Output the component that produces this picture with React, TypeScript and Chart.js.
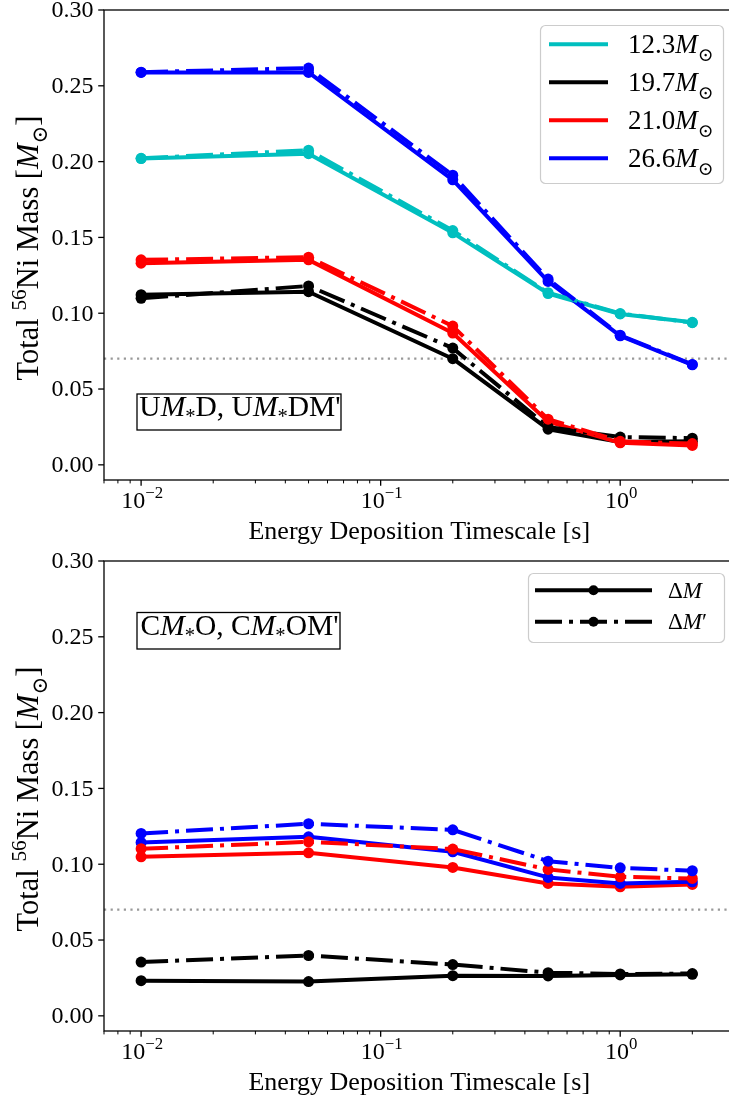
import React, { useEffect, useRef } from "react";
import { Chart, registerables } from "chart.js";
import type { Plugin } from "chart.js";

Chart.register(...registerables);

// ---- data ----
const TIMESCALES = [0.01, 0.05, 0.2, 0.5, 1, 2];

const MASSES = ["12.3", "19.7", "21.0", "26.6"];
const MASS_COLORS = ["#00bfbf", "#000000", "#ff0000", "#0000ff"];

// upper panel: UM*D (solid, ΔM) and UM*DM' (dash-dot, ΔM')
const UMD_12_3 = [0.202, 0.2052, 0.153, 0.113, 0.0995, 0.094];
const UMDP_12_3 = [0.2022, 0.2075, 0.1545, 0.1135, 0.0998, 0.0938];
const UMD_19_7 = [0.1122, 0.1142, 0.07, 0.0235, 0.015, 0.0155];
const UMDP_19_7 = [0.1098, 0.118, 0.077, 0.025, 0.0183, 0.0176];
const UMD_21_0 = [0.133, 0.1352, 0.0869, 0.0285, 0.0145, 0.0128];
const UMDP_21_0 = [0.1352, 0.137, 0.0915, 0.0301, 0.0155, 0.014];
const UMD_26_6 = [0.2588, 0.2588, 0.188, 0.121, 0.0851, 0.066];
const UMDP_26_6 = [0.259, 0.2617, 0.191, 0.1225, 0.0855, 0.0662];

// lower panel: CM*O (solid, ΔM) and CM*OM' (dash-dot, ΔM')
const CMO_19_7 = [0.0232, 0.0226, 0.0265, 0.0263, 0.027, 0.0274];
const CMOP_19_7 = [0.0355, 0.0398, 0.0338, 0.0285, 0.0276, 0.0279];
const CMO_21_0 = [0.1049, 0.1075, 0.0979, 0.0873, 0.0851, 0.0867];
const CMOP_21_0 = [0.1102, 0.1148, 0.11, 0.0966, 0.0917, 0.0906];
const CMO_26_6 = [0.1144, 0.1181, 0.1082, 0.0913, 0.0873, 0.0884];
const CMOP_26_6 = [0.1203, 0.1267, 0.1227, 0.102, 0.0976, 0.0957];

const THRESHOLD = 0.07;

const Y_TICKS = [0, 0.05, 0.1, 0.15, 0.2, 0.25, 0.3];
const X_MAJOR = [0.01, 0.1, 1];
const X_MAJOR_EXP = ["\u22122", "\u22121", "0"];
const X_MINOR = [
  0.007, 0.008, 0.009, 0.02, 0.03, 0.04, 0.05, 0.06, 0.07, 0.08, 0.09,
  0.2, 0.3, 0.4, 0.5, 0.6, 0.7, 0.8, 0.9, 2, 3,
];
const X_RANGE = [0.007, 3];
const Y_RANGE = [-0.01, 0.3];

const DELTA_LABELS = ["\u0394M", "\u0394M\u2032"];

// ---- text helpers ----
const SERIF = '"Liberation Serif", "DejaVu Serif", serif';

type Seg = { t: string; it?: boolean; scale?: number; dy?: number };

function segFont(s: Seg, size: number) {
  return `${s.it ? "italic " : ""}${size * (s.scale ?? 1)}px ${SERIF}`;
}

function richWidth(ctx: CanvasRenderingContext2D, segs: Seg[], size: number) {
  let w = 0;
  for (const s of segs) {
    ctx.font = segFont(s, size);
    w += ctx.measureText(s.t).width;
  }
  return w;
}

function drawRich(
  ctx: CanvasRenderingContext2D,
  segs: Seg[],
  x: number,
  y: number,
  size: number,
  align: "left" | "center" | "right"
) {
  const w = richWidth(ctx, segs, size);
  let cx = align === "left" ? x : align === "center" ? x - w / 2 : x - w;
  ctx.textAlign = "left";
  ctx.textBaseline = "alphabetic";
  for (const s of segs) {
    ctx.font = segFont(s, size);
    ctx.fillText(s.t, cx, y + (s.dy ?? 0) * size);
    cx += ctx.measureText(s.t).width;
  }
}

const SUB_STAR: Seg = { t: "*", scale: 0.7, dy: 0.23 };
const SUN: Seg = { t: "\u2299", scale: 0.7, dy: 0.3 };

function massLabel(m: string): Seg[] {
  return [{ t: m }, { t: "M", it: true }, SUN];
}

function deltaLabel(s: string): Seg[] {
  return [{ t: s[0] }, { t: "M", it: true }, ...(s.length > 2 ? [{ t: s.slice(2) }] : [])];
}

function roundRect(ctx: CanvasRenderingContext2D, x: number, y: number, w: number, h: number, r: number) {
  ctx.beginPath();
  ctx.moveTo(x + r, y);
  ctx.lineTo(x + w - r, y);
  ctx.arcTo(x + w, y, x + w, y + r, r);
  ctx.lineTo(x + w, y + h - r);
  ctx.arcTo(x + w, y + h, x + w - r, y + h, r);
  ctx.lineTo(x + r, y + h);
  ctx.arcTo(x, y + h, x, y + h - r, r);
  ctx.lineTo(x, y + r);
  ctx.arcTo(x, y, x + r, y, r);
  ctx.closePath();
}

const DASH_DOT = [27, 7, 4, 7];

// ---- panel definitions ----
type Series = { values: number[]; color: string; dashed: boolean };

interface PanelSpec {
  series: Series[];
  tag: Seg[];
  tagBox: [number, number, number, number];
  tagBaseline: number;
  drawLegend: (ctx: CanvasRenderingContext2D) => void;
}

const upperSeries: Series[] = [
  { values: UMD_12_3, color: MASS_COLORS[0], dashed: false },
  { values: UMD_19_7, color: MASS_COLORS[1], dashed: false },
  { values: UMD_21_0, color: MASS_COLORS[2], dashed: false },
  { values: UMD_26_6, color: MASS_COLORS[3], dashed: false },
  { values: UMDP_12_3, color: MASS_COLORS[0], dashed: true },
  { values: UMDP_19_7, color: MASS_COLORS[1], dashed: true },
  { values: UMDP_21_0, color: MASS_COLORS[2], dashed: true },
  { values: UMDP_26_6, color: MASS_COLORS[3], dashed: true },
];

const lowerSeries: Series[] = [
  { values: CMO_19_7, color: MASS_COLORS[1], dashed: false },
  { values: CMO_21_0, color: MASS_COLORS[2], dashed: false },
  { values: CMO_26_6, color: MASS_COLORS[3], dashed: false },
  { values: CMOP_19_7, color: MASS_COLORS[1], dashed: true },
  { values: CMOP_21_0, color: MASS_COLORS[2], dashed: true },
  { values: CMOP_26_6, color: MASS_COLORS[3], dashed: true },
];

function massLegend(ctx: CanvasRenderingContext2D) {
  ctx.save();
  roundRect(ctx, 540.5, 25.5, 183, 158, 5);
  ctx.fillStyle = "rgba(255,255,255,0.85)";
  ctx.fill();
  ctx.strokeStyle = "#cccccc";
  ctx.lineWidth = 1.2;
  ctx.stroke();
  MASSES.forEach((m, i) => {
    const y = 44.3 + 38 * i;
    ctx.strokeStyle = MASS_COLORS[i];
    ctx.lineWidth = 4;
    ctx.setLineDash([]);
    ctx.beginPath();
    ctx.moveTo(549, y);
    ctx.lineTo(608, y);
    ctx.stroke();
    ctx.fillStyle = "#000";
    drawRich(ctx, massLabel(m), 628, y + 9, 27, "left");
  });
  ctx.restore();
}

function deltaLegend(ctx: CanvasRenderingContext2D) {
  ctx.save();
  roundRect(ctx, 528.5, 22.5, 196, 69, 5);
  ctx.fillStyle = "rgba(255,255,255,0.85)";
  ctx.fill();
  ctx.strokeStyle = "#cccccc";
  ctx.lineWidth = 1.2;
  ctx.stroke();
  DELTA_LABELS.forEach((lab, i) => {
    const y = 39.3 + 31.4 * i;
    ctx.strokeStyle = "#000";
    ctx.lineWidth = 4;
    ctx.setLineDash(i === 0 ? [] : DASH_DOT);
    ctx.beginPath();
    ctx.moveTo(535, y);
    ctx.lineTo(652, y);
    ctx.stroke();
    ctx.setLineDash([]);
    ctx.fillStyle = "#000";
    ctx.beginPath();
    ctx.arc(593.5, y, 5, 0, Math.PI * 2);
    ctx.fill();
    drawRich(ctx, deltaLabel(lab), 668, y + 7.5, 23, "left");
  });
  ctx.restore();
}

const UPPER: PanelSpec = {
  series: upperSeries,
  tag: [
    { t: "U" }, { t: "M", it: true }, SUB_STAR, { t: "D, U" },
    { t: "M", it: true }, SUB_STAR, { t: "DM'" },
  ],
  tagBox: [137, 394, 204, 36],
  tagBaseline: 416,
  drawLegend: massLegend,
};

const LOWER: PanelSpec = {
  series: lowerSeries,
  tag: [
    { t: "C" }, { t: "M", it: true }, SUB_STAR, { t: "O, C" },
    { t: "M", it: true }, SUB_STAR, { t: "OM'" },
  ],
  tagBox: [137, 61.5, 203, 36.5],
  tagBaseline: 84,
  drawLegend: deltaLegend,
};

const Y_TITLE: Seg[] = [
  { t: "Total " },
  { t: "56", scale: 0.7, dy: -0.4 },
  { t: "Ni Mass [" },
  { t: "M", it: true },
  SUN,
  { t: "]" },
];
const X_TITLE: Seg[] = [{ t: "Energy Deposition Timescale [s]" }];

function decorPlugin(spec: PanelSpec): Plugin<"line"> {
  return {
    id: "panelDecor",
    beforeDatasetsDraw(chart) {
      const { ctx, chartArea: a } = chart;
      const py = chart.scales.y.getPixelForValue(THRESHOLD);
      ctx.save();
      ctx.strokeStyle = "#999999";
      ctx.lineWidth = 2.2;
      ctx.setLineDash([2.2, 4.4]);
      ctx.beginPath();
      ctx.moveTo(a.left, py);
      ctx.lineTo(a.right, py);
      ctx.stroke();
      ctx.restore();
    },
    afterDraw(chart) {
      const { ctx, chartArea: a } = chart;
      const xs = chart.scales.x;
      const ys = chart.scales.y;
      ctx.save();
      ctx.setLineDash([]);
      ctx.fillStyle = "#000";

      // annotation tag
      const [bx, by, bw, bh] = spec.tagBox;
      ctx.fillStyle = "#fff";
      ctx.fillRect(bx, by, bw, bh);
      ctx.strokeStyle = "#000";
      ctx.lineWidth = 1.3;
      ctx.strokeRect(bx, by, bw, bh);
      ctx.fillStyle = "#000";
      drawRich(ctx, spec.tag, bx + bw / 2 + 1, spec.tagBaseline, 29.5, "center");

      spec.drawLegend(ctx);

      // spines
      ctx.strokeStyle = "#000";
      ctx.lineWidth = 1.3;
      ctx.strokeRect(a.left, a.top, a.right - a.left, a.bottom - a.top);

      // y ticks and labels
      ctx.font = `24px ${SERIF}`;
      ctx.textAlign = "right";
      ctx.textBaseline = "middle";
      for (const v of Y_TICKS) {
        const py = ys.getPixelForValue(v);
        ctx.beginPath();
        ctx.moveTo(a.left - 5.8, py);
        ctx.lineTo(a.left, py);
        ctx.stroke();
        ctx.fillText(v.toFixed(2), 93.5, py + 1);
      }

      // x ticks
      ctx.lineWidth = 1.3;
      for (const v of X_MAJOR) {
        const px = xs.getPixelForValue(v);
        ctx.beginPath();
        ctx.moveTo(px, a.bottom);
        ctx.lineTo(px, a.bottom + 5.8);
        ctx.stroke();
      }
      ctx.lineWidth = 1;
      for (const v of X_MINOR) {
        const px = xs.getPixelForValue(v);
        ctx.beginPath();
        ctx.moveTo(px, a.bottom);
        ctx.lineTo(px, a.bottom + 3.4);
        ctx.stroke();
      }
      X_MAJOR.forEach((v, i) => {
        const px = xs.getPixelForValue(v);
        drawRich(ctx, [{ t: "10" }, { t: X_MAJOR_EXP[i], scale: 0.7, dy: -0.42 }], px + 1, a.bottom + 28, 24, "center");
      });

      // axis titles
      drawRich(ctx, X_TITLE, (a.left + a.right) / 2, a.bottom + 59, 26, "center");
      ctx.save();
      ctx.translate(38, (a.top + a.bottom) / 2 + 3);
      ctx.rotate(-Math.PI / 2);
      drawRich(ctx, Y_TITLE, 0, 0, 30.5, "center");
      ctx.restore();

      ctx.restore();
    },
  };
}

function Panel({ spec, top, height }: { spec: PanelSpec; top: number; height: number }) {
  const ref = useRef<HTMLCanvasElement | null>(null);

  useEffect(() => {
    if (!ref.current) return;
    const n = spec.series.length;
    const chart = new Chart(ref.current, {
      type: "line",
      data: {
        datasets: spec.series.map((s, i) => ({
          data: TIMESCALES.map((x, j) => ({ x, y: s.values[j] })),
          borderColor: s.color,
          backgroundColor: s.color,
          pointBackgroundColor: s.color,
          pointBorderWidth: 0,
          pointRadius: 5.5,
          borderWidth: 4,
          borderDash: s.dashed ? DASH_DOT : [],
          borderJoinStyle: "round" as const,
          tension: 0,
          fill: false,
          order: n - i,
        })),
      },
      options: {
        responsive: false,
        animation: false,
        events: [],
        layout: { padding: { left: 104, top: 10, right: 4, bottom: height - 480 } },
        plugins: { legend: { display: false }, tooltip: { enabled: false } },
        scales: {
          x: { type: "logarithmic", min: X_RANGE[0], max: X_RANGE[1], display: false },
          y: { type: "linear", min: Y_RANGE[0], max: Y_RANGE[1], display: false },
        },
      },
      plugins: [decorPlugin(spec)],
    });
    return () => chart.destroy();
  }, [spec, height]);

  return (
    <canvas
      ref={ref}
      width={740}
      height={height}
      style={{ position: "absolute", left: 0, top, width: 740, height, display: "block" }}
    />
  );
}

export default function App() {
  return (
    <div
      style={{
        position: "absolute",
        left: 0,
        top: 0,
        width: 729,
        height: 1101,
        overflow: "hidden",
        background: "#fff",
      }}
    >
      <Panel spec={UPPER} top={0} height={551} />
      <Panel spec={LOWER} top={551} height={550} />
    </div>
  );
}
